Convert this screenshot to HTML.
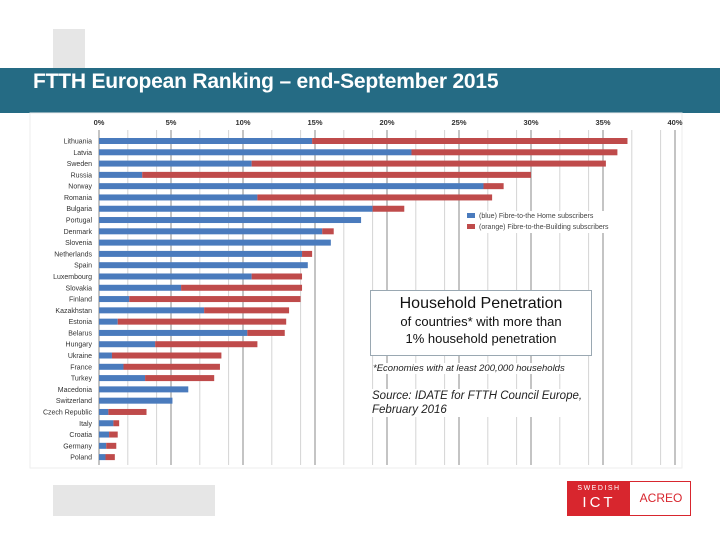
<!DOCTYPE html>
<html><head><meta charset="utf-8"><style>
body{margin:0;width:720px;height:540px;background:#fff;position:relative;overflow:hidden;font-family:"Liberation Sans",sans-serif}
.abs{position:absolute}
</style></head><body>
<div class="abs" style="left:53px;top:29px;width:32px;height:40px;background:#e6e6e6"></div>
<div class="abs" style="left:0;top:68px;width:720px;height:45px;background:#256b84"></div>
<div class="abs" style="left:33px;top:70px;color:#fff;font-weight:bold;font-size:21px;letter-spacing:-0.2px">FTTH European Ranking – end-September 2015</div>
<div class="abs" style="left:53px;top:485px;width:162px;height:31px;background:#e6e6e6"></div>
<div class="abs" style="left:567px;top:481px;width:124px;height:35px;border:1px solid #d8262e;box-sizing:border-box">
  <div class="abs" style="left:0;top:0;width:62px;height:33px;background:#d8262e;color:#fff;font-size:7px;letter-spacing:1.5px;text-align:center;line-height:14px">SWEDISH<div style="font-size:15px;letter-spacing:3px;line-height:14px">ICT</div></div>
  <div class="abs" style="left:62px;top:9px;width:62px;text-align:center;color:#d8262e;font-size:12px">ACREO</div>
</div>
<svg class="abs" style="left:0;top:0" width="720" height="540">
<g id="g"></g>
</svg>
<div class="abs" style="left:465px;top:211px;font-size:7px;color:#444;line-height:11px;background:#fff;padding:0 2px">
<div><span style="display:inline-block;width:8px;height:5px;background:#4a7bbd;margin-right:4px"></span>(blue) Fibre-to-the Home subscribers</div>
<div><span style="display:inline-block;width:8px;height:5px;background:#bf4b4b;margin-right:4px"></span>(orange) Fibre-to-the-Building subscribers</div>
</div>
<div class="abs" style="left:370px;top:290px;width:220px;height:64px;border:1px solid #9aa8b2;background:#fff;text-align:center;color:#111">
<div style="font-size:16px;margin-top:4px">Household Penetration</div>
<div style="font-size:13px;line-height:17px">of countries* with more than<br>1% household penetration</div>
</div>
<div class="abs" style="left:373px;top:363px;font-size:9.5px;font-style:italic;color:#222;background:#fff">*Economies with at least 200,000 households</div>
<div class="abs" style="left:372px;top:389px;font-size:11.5px;font-style:italic;color:#222;line-height:14px;background:#fff">Source: IDATE for FTTH Council Europe,<br>February 2016</div>
<script>
const countries=["Lithuania","Latvia","Sweden","Russia","Norway","Romania","Bulgaria","Portugal","Denmark","Slovenia","Netherlands","Spain","Luxembourg","Slovakia","Finland","Kazakhstan","Estonia","Belarus","Hungary","Ukraine","France","Turkey","Macedonia","Switzerland","Czech Republic","Italy","Croatia","Germany","Poland"];
const ftth=[14.8,21.7,10.6,3.0,26.7,11.0,19.0,18.2,15.5,16.1,14.1,14.5,10.6,5.7,2.1,7.3,1.3,10.3,3.9,0.9,1.7,3.2,6.2,5.1,0.65,1.0,0.7,0.5,0.45];
const fttb=[21.9,14.3,24.6,27.0,1.4,16.3,2.2,0,0.8,0,0.7,0,3.5,8.4,11.9,5.9,11.7,2.6,7.1,7.6,6.7,4.8,0,0,2.65,0.4,0.6,0.7,0.65];
const ticks=[0,5,10,15,20,25,30,35,40];
const x=v=>99+v*14.4, y=i=>141+i*11.29;
const g=document.getElementById('g'),NS='http://www.w3.org/2000/svg';
function mk(t,a){const e=document.createElementNS(NS,t);for(const k in a)e.setAttribute(k,a[k]);g.appendChild(e);return e;}
const bg=mk('rect',{x:30,y:113,width:652,height:355,fill:'#fff',stroke:'#eee'});


for(let k=0;k<8;k++){for(const m of [2,4]){const v=k*5+m;const l=mk('line',{x1:x(v),x2:x(v),y1:130,y2:465,stroke:'#d4d4d4','stroke-width':1});

}}
ticks.forEach(t=>{const l=mk('line',{x1:x(t),x2:x(t),y1:130,y2:465,stroke:'#8a8a8a','stroke-width':1});


const tx=mk('text',{x:x(t),y:125,'text-anchor':'middle','font-size':7.5,'font-weight':'bold',fill:'#333'});tx.textContent=t+'%';

});
countries.forEach((c,i)=>{
const b=mk('rect',{x:x(0),y:y(i)-3,width:ftth[i]*14.4,height:6,fill:'#4a7bbd'});


const r=mk('rect',{x:x(ftth[i]),y:y(i)-3,width:fttb[i]*14.4,height:6,fill:'#bf4b4b'});


const t=mk('text',{x:92,y:y(i)+2.5,'text-anchor':'end','font-size':7,fill:'#333'});t.textContent=c;


});
</script>
</body></html>
